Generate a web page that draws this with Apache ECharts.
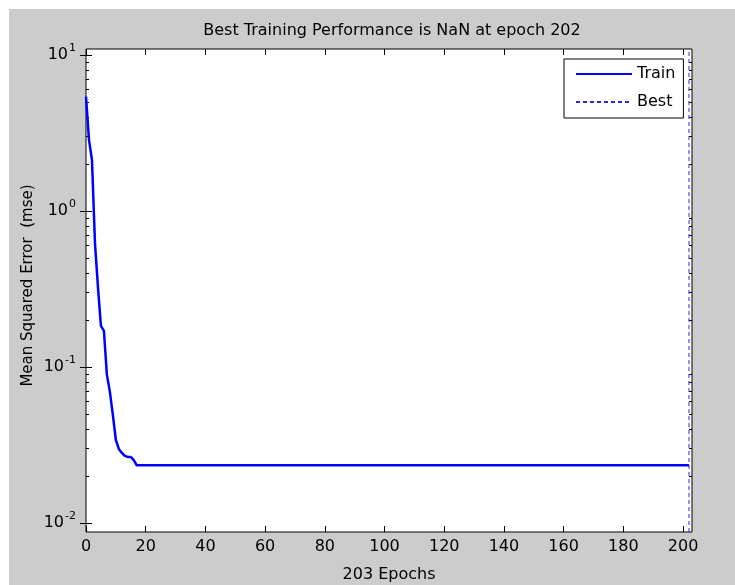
<!DOCTYPE html>
<html>
<head>
<meta charset="utf-8">
<title>Best Training Performance</title>
<script src="https://cdn.jsdelivr.net/npm/echarts@6/dist/echarts.min.js"></script>
<style>
  html, body { margin: 0; padding: 0; background: #fff; }
  #perf { width: 735px; height: 585px; }
</style>
</head>
<body>
<div id="perf"></div>
<script>
// training record (epoch, mse); flat after epoch 17
var trainEpochs = [0, 1, 2, 3, 4, 5, 6, 7, 8, 9, 10, 11, 12, 13, 14, 15, 16, 17, 202];
var trainMse = [5.4, 2.85, 2.12, 0.624, 0.326, 0.183, 0.17, 0.0889, 0.0692, 0.0492,
                0.034, 0.0298, 0.0281, 0.0269, 0.0265, 0.0265, 0.0253, 0.0234, 0.0234];
// best epoch marker spans the whole y range
var bestEpochs = [202, 202];
var bestMse = [0.00875, 10.9];

var xTicks = [0, 20, 40, 60, 80, 100, 120, 140, 160, 180, 200];
var yMajor = [0.01, 0.1, 1, 10];
var yMinor = [0.02, 0.03, 0.04, 0.05, 0.06, 0.07, 0.08, 0.09,
              0.2, 0.3, 0.4, 0.5, 0.6, 0.7, 0.8, 0.9,
              2, 3, 4, 5, 6, 7, 8, 9];

var FONT = '"DejaVu Sans", sans-serif';

function pairs(xs, ys) {
  return xs.map(function (x, i) { return [x, ys[i]]; });
}

var chart = echarts.init(document.getElementById('perf'));

function xAxisDef(pos, showLabel) {
  return {
    type: 'value', position: pos, min: 0, max: 203,
    axisLine: { show: false },
    axisTick: { inside: true, length: 6, customValues: xTicks, lineStyle: { color: '#000' } },
    axisLabel: {
      show: showLabel, customValues: xTicks, margin: 7,
      color: '#000', fontSize: 16, fontFamily: FONT
    },
    splitLine: { show: false }
  };
}

function yAxisDef(pos, ticks, len, showLabel) {
  return {
    type: 'log', position: pos, min: 0.00875, max: 10.9,
    axisLine: { show: false },
    axisTick: { inside: true, length: len, customValues: ticks, lineStyle: { color: '#000' } },
    axisLabel: {
      show: showLabel, customValues: yMajor, margin: 10,
      formatter: function (v) {
        return '{b|10}{e|' + Math.round(Math.log10(v)) + '}';
      },
      rich: {
        b: { fontSize: 16, lineHeight: 24, fontFamily: FONT, color: '#000' },
        e: { fontSize: 11, lineHeight: 8, verticalAlign: 'top', fontFamily: FONT, color: '#000', padding: [0, 0, 0, 1] }
      }
    },
    splitLine: { show: false },
    minorSplitLine: { show: false }
  };
}

var yMain = yAxisDef('left', yMajor, 6, true);
yMain.name = 'Mean Squared Error  (mse)';
yMain.nameLocation = 'middle';
yMain.nameGap = 50;
yMain.nameMoveOverlap = false;
yMain.nameTextStyle = { color: '#000', fontSize: 15, fontFamily: FONT, padding: [0, 0, 0, 10] };

var xMain = xAxisDef('bottom', true);
xMain.name = '203 Epochs';
xMain.nameLocation = 'middle';
xMain.nameGap = 35;
xMain.nameMoveOverlap = false;
xMain.nameTextStyle = { color: '#000', fontSize: 16, fontFamily: FONT };

chart.setOption({
  backgroundColor: '#fff',
  animation: false,
  graphic: [
    { type: 'rect', z: -10, shape: { x: 9, y: 9, width: 726, height: 576 }, style: { fill: '#cccccc' } },
    {
      type: 'text', x: 392, y: 31,
      style: {
        text: 'Best Training Performance is NaN at epoch 202',
        fill: '#000', font: '16px ' + FONT,
        textAlign: 'center', textVerticalAlign: 'middle'
      }
    }
  ],
  grid: {
    left: 86, top: 49, right: 43, bottom: 53,
    outerBoundsMode: 'none', containLabel: false,
    show: true, backgroundColor: '#fff', borderColor: '#000', borderWidth: 1
  },
  legend: {
    orient: 'vertical', left: 564, top: 59,
    padding: [7, 8, 8, 11],
    itemWidth: 56, itemHeight: 14, itemGap: 12,
    itemStyle: { opacity: 0 },
    backgroundColor: '#fff', borderColor: '#000', borderWidth: 1,
    textStyle: { color: '#000', fontSize: 16, fontFamily: FONT },
    data: ['Train', 'Best']
  },
  xAxis: [xMain, xAxisDef('top', false)],
  yAxis: [
    yMain,
    yAxisDef('right', yMajor, 6, false),
    yAxisDef('left', yMinor, 3, false),
    yAxisDef('right', yMinor, 3, false)
  ],
  series: [
    {
      name: 'Train', type: 'line', symbol: 'none',
      data: pairs(trainEpochs, trainMse),
      lineStyle: { color: '#0000ff', width: 2.5 },
      itemStyle: { color: '#0000ff' }
    },
    {
      name: 'Best', type: 'line', symbol: 'none',
      data: pairs(bestEpochs, bestMse),
      lineStyle: { color: '#2a2ad4', width: 1, type: [4, 3] },
      itemStyle: { color: '#2a2ad4' }
    }
  ]
});
</script>
</body>
</html>
